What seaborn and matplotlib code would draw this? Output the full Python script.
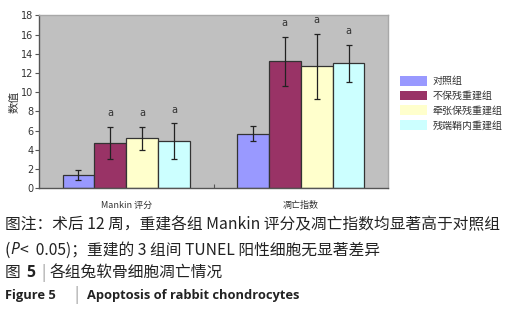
import matplotlib
matplotlib.use("Agg")
import matplotlib.pyplot as plt
from matplotlib.container import BarContainer
import numpy as np
import pandas as pd
import seaborn as sns

# 数据
categories = ["Mankin 评分", "凋亡指数"]
groups = ["对照组", "不保残重建组", "牵张保残重建组", "残端鞘内重建组"]
means = {
    "Mankin 评分": [1.4, 4.7, 5.2, 4.9],
    "凋亡指数": [5.7, 13.2, 12.7, 13.0],
}
sds = {
    "Mankin 评分": [0.55, 1.7, 1.2, 1.85],
    "凋亡指数": [0.8, 2.55, 3.4, 1.95],
}
sig = {
    "Mankin 评分": ["", "a", "a", "a"],
    "凋亡指数": ["", "a", "a", "a"],
}
colors = ["#9999FF", "#993366", "#FFFFCC", "#CCFFFF"]

sns.set_style("white")
plt.rcParams['font.family'] = ['Noto Sans CJK SC', 'DejaVu Sans']
plt.rcParams['axes.unicode_minus'] = False

rows = []
for c in categories:
    for g, m, s in zip(groups, means[c], sds[c]):
        rows.append({"cat": c, "group": g, "mean": m, "sd": s})
df = pd.DataFrame(rows)

fig = plt.figure(figsize=(5.27, 3.10), dpi=100)
ax = fig.add_axes([39 / 527, 1 - 188.3 / 310, 349 / 527, 173 / 310])
ax.set_facecolor("#C0C0C0")

sns.barplot(data=df, x="cat", y="mean", hue="group", hue_order=groups,
            palette=colors, width=0.73, errorbar=None, ax=ax,
            edgecolor="#333333", linewidth=0.9, saturation=1)

# 误差线 + 显著性标记
bar_conts = [c for c in ax.containers if isinstance(c, BarContainer)]
for gi, cont in enumerate(bar_conts):
    for ci, bar in enumerate(cont):
        c = categories[ci]
        xc = bar.get_x() + bar.get_width() / 2
        m = means[c][gi]
        s = sds[c][gi]
        ax.errorbar(xc, m, yerr=s, fmt="none", ecolor="#222222",
                    elinewidth=0.9, capsize=2.5, capthick=0.9, zorder=5)
        if sig[c][gi]:
            ax.text(xc, m + s + 1.4, sig[c][gi], ha="center", va="center",
                    fontsize=7, color="#333333", family=['DejaVu Sans'])

ax.set_ylim(0, 18)
ax.set_xlim(-0.5, 1.5)
ax.set_yticks(np.arange(0, 19, 2))
ax.tick_params(axis="y", direction="out", length=3, width=0.8, color="#555555",
               labelsize=7, pad=1, labelcolor="#333333", left=True)
ax.set_xticks([0, 1])
ax.set_xticklabels(categories)
ax.tick_params(axis="x", length=0, labelsize=6.5, pad=9, labelcolor="#333333")
ax.set_xticks([0.5], minor=True)
ax.tick_params(axis="x", which="minor", direction="in", length=3, width=0.8,
               color="#555555", bottom=True)
for lab in ax.get_yticklabels():
    lab.set_family(['DejaVu Sans'])
ax.set_xlabel("")
ax.set_ylabel("数值", fontsize=8, labelpad=1, color="#333333")

for side in ["left", "bottom"]:
    ax.spines[side].set_color("#555555")
    ax.spines[side].set_linewidth(1.0)
for side in ["top", "right"]:
    ax.spines[side].set_color("#A8A8A8")
    ax.spines[side].set_linewidth(1.0)

handles, labels = ax.get_legend_handles_labels()
for h in handles:
    h.set_edgecolor("none")
leg = ax.legend(handles, labels, loc="upper left",
                bbox_to_anchor=(400 / 527, 1 - 76 / 310),
                bbox_transform=fig.transFigure, frameon=False, fontsize=7.2,
                handlelength=2.7, handleheight=1.1, labelspacing=0.45,
                handletextpad=0.55, borderpad=0, borderaxespad=0)
for t in leg.get_texts():
    t.set_color("#333333")

# 图注
cap_fs = 11.3
fig.text(5 / 527, 1 - 225 / 310, "图注：术后 12 周，重建各组 Mankin 评分及凋亡指数均显著高于对照组",
         fontsize=cap_fs, va="center", ha="left", color="#222222")
fig.text(5 / 527, 1 - 250 / 310, "(", fontsize=cap_fs, va="center", ha="left", color="#222222")
fig.text(10 / 527, 1 - 250 / 310, "P", fontsize=cap_fs, va="center", ha="left",
         color="#222222", style="italic", family=['Noto Sans', 'DejaVu Sans'])
fig.text(20 / 527, 1 - 250 / 310, "<  0.05)；重建的 3 组间 TUNEL 阳性细胞无显著差异",
         fontsize=cap_fs, va="center", ha="left", color="#222222")
fig.text(5 / 527, 1 - 273 / 310, "图", fontsize=cap_fs, va="center", ha="left", color="#222222")
fig.text(26 / 527, 1 - 273 / 310, "5", fontsize=cap_fs, va="center", ha="left",
         color="#222222", weight="bold", family=['Open Sans', 'DejaVu Sans'])
fig.text(41 / 527, 1 - 273 / 310, "|", fontsize=cap_fs, va="center", ha="left", color="#999999")
fig.text(50 / 527, 1 - 273 / 310, "各组兔软骨细胞凋亡情况", fontsize=cap_fs, va="center",
         ha="left", color="#222222")
fig.text(5 / 527, 1 - 295 / 310, "Figure 5", fontsize=9.3, va="center", ha="left",
         color="#222222", weight="bold", family=['Open Sans', 'DejaVu Sans'])
fig.text(74 / 527, 1 - 295 / 310, "|", fontsize=cap_fs, va="center", ha="left", color="#999999")
fig.text(87 / 527, 1 - 295 / 310, "Apoptosis of rabbit chondrocytes", fontsize=9.3,
         va="center", ha="left", color="#222222", weight="bold",
         family=['Open Sans', 'DejaVu Sans'])

fig.savefig("out.png", dpi=100)
